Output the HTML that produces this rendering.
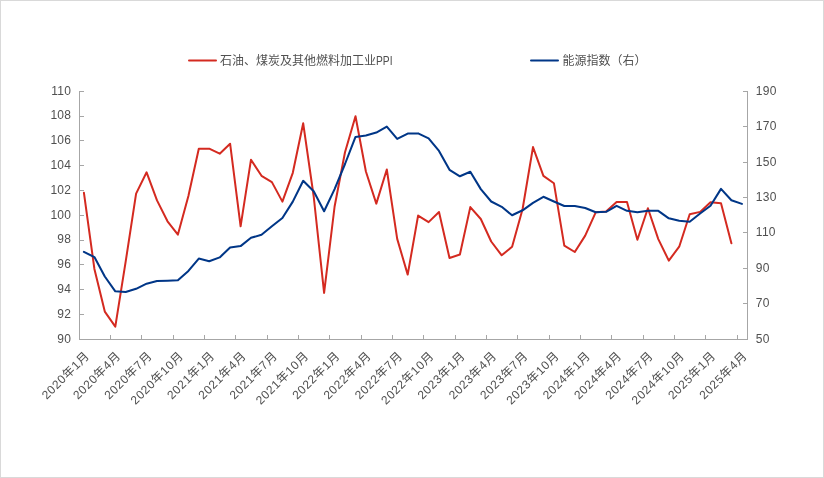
<!DOCTYPE html>
<html lang="zh-CN">
<head>
<meta charset="utf-8">
<title>石油、煤炭及其他燃料加工业PPI 与 能源指数</title>
<style>
html,body{margin:0;padding:0;background:#fff;}
body{width:824px;height:478px;overflow:hidden;}
svg{display:block;}
text{font-family:"Liberation Sans","Noto Sans CJK SC",sans-serif;font-size:12px;fill:#505050;}
.ax{stroke:#A6A6A6;stroke-width:1;fill:none;shape-rendering:crispEdges;}
.ln{fill:none;stroke-linejoin:round;stroke-linecap:round;}
</style>
</head>
<body>
<svg width="824" height="478" viewBox="0 0 824 478">
<rect x="0.5" y="0.5" width="823" height="477" fill="#fff" stroke="#D9D9D9" stroke-width="1" shape-rendering="crispEdges"/>
<g class="ax">
<path d="M79.5 91.0 V339.5 H747.5 V91.0"/>
<path d="M79.5 91.5 h4.5M79.5 116.5 h4.5M79.5 140.5 h4.5M79.5 165.5 h4.5M79.5 190.5 h4.5M79.5 215.5 h4.5M79.5 240.5 h4.5M79.5 264.5 h4.5M79.5 289.5 h4.5M79.5 314.5 h4.5M79.5 339.5 h4.5M747.5 91.5 h-4.5M747.5 126.5 h-4.5M747.5 162.5 h-4.5M747.5 197.5 h-4.5M747.5 232.5 h-4.5M747.5 268.5 h-4.5M747.5 303.5 h-4.5M747.5 339.5 h-4.5M79.5 339.5 v-4.5M110.5 339.5 v-4.5M141.5 339.5 v-4.5M173.5 339.5 v-4.5M204.5 339.5 v-4.5M235.5 339.5 v-4.5M267.5 339.5 v-4.5M298.5 339.5 v-4.5M329.5 339.5 v-4.5M361.5 339.5 v-4.5M392.5 339.5 v-4.5M423.5 339.5 v-4.5M455.5 339.5 v-4.5M486.5 339.5 v-4.5M517.5 339.5 v-4.5M549.5 339.5 v-4.5M580.5 339.5 v-4.5M611.5 339.5 v-4.5M643.5 339.5 v-4.5M674.5 339.5 v-4.5M705.5 339.5 v-4.5M737.5 339.5 v-4.5"/>
</g>
<g text-anchor="end" style="letter-spacing:0.3px">
<text x="71.3" y="94.6">110</text>
<text x="71.3" y="119.4">108</text>
<text x="71.3" y="144.2">106</text>
<text x="71.3" y="169.0">104</text>
<text x="71.3" y="193.8">102</text>
<text x="71.3" y="218.6">100</text>
<text x="71.3" y="243.4">98</text>
<text x="71.3" y="268.2">96</text>
<text x="71.3" y="293.0">94</text>
<text x="71.3" y="317.8">92</text>
<text x="71.3" y="342.6">90</text>
</g>
<g text-anchor="start" style="letter-spacing:0.3px">
<text x="755.8" y="94.6">190</text>
<text x="755.8" y="130.0">170</text>
<text x="755.8" y="165.5">150</text>
<text x="755.8" y="200.9">130</text>
<text x="755.8" y="236.3">110</text>
<text x="755.8" y="271.7">90</text>
<text x="755.8" y="307.2">70</text>
<text x="755.8" y="342.6">50</text>
</g>
<g text-anchor="end" style="letter-spacing:0.6px">
<text transform="translate(90.2,356.5) rotate(-45)" x="0" y="0">2020年1月</text>
<text transform="translate(121.5,356.5) rotate(-45)" x="0" y="0">2020年4月</text>
<text transform="translate(152.8,356.5) rotate(-45)" x="0" y="0">2020年7月</text>
<text transform="translate(184.2,356.5) rotate(-45)" x="0" y="0">2020年10月</text>
<text transform="translate(215.5,356.5) rotate(-45)" x="0" y="0">2021年1月</text>
<text transform="translate(246.8,356.5) rotate(-45)" x="0" y="0">2021年4月</text>
<text transform="translate(278.1,356.5) rotate(-45)" x="0" y="0">2021年7月</text>
<text transform="translate(309.4,356.5) rotate(-45)" x="0" y="0">2021年10月</text>
<text transform="translate(340.7,356.5) rotate(-45)" x="0" y="0">2022年1月</text>
<text transform="translate(372.0,356.5) rotate(-45)" x="0" y="0">2022年4月</text>
<text transform="translate(403.3,356.5) rotate(-45)" x="0" y="0">2022年7月</text>
<text transform="translate(434.7,356.5) rotate(-45)" x="0" y="0">2022年10月</text>
<text transform="translate(466.0,356.5) rotate(-45)" x="0" y="0">2023年1月</text>
<text transform="translate(497.3,356.5) rotate(-45)" x="0" y="0">2023年4月</text>
<text transform="translate(528.6,356.5) rotate(-45)" x="0" y="0">2023年7月</text>
<text transform="translate(559.9,356.5) rotate(-45)" x="0" y="0">2023年10月</text>
<text transform="translate(591.2,356.5) rotate(-45)" x="0" y="0">2024年1月</text>
<text transform="translate(622.5,356.5) rotate(-45)" x="0" y="0">2024年4月</text>
<text transform="translate(653.8,356.5) rotate(-45)" x="0" y="0">2024年7月</text>
<text transform="translate(685.2,356.5) rotate(-45)" x="0" y="0">2024年10月</text>
<text transform="translate(716.5,356.5) rotate(-45)" x="0" y="0">2025年1月</text>
<text transform="translate(747.8,356.5) rotate(-45)" x="0" y="0">2025年4月</text>
</g>
<polyline class="ln" stroke="#D42A20" stroke-width="2" points="83.9,192.7 94.4,268.9 104.8,311.6 115.3,326.6 125.7,261.4 136.1,193.6 146.6,172.3 157.0,200.4 167.5,221.3 177.9,234.6 188.4,196.0 198.8,148.7 209.2,148.7 219.7,153.7 230.1,143.7 240.6,226.3 251.0,159.7 261.5,175.8 271.9,182.1 282.4,201.6 292.8,172.8 303.2,123.3 313.7,196.5 324.1,292.9 334.6,206.5 345.0,152.2 355.5,116.3 365.9,171.5 376.3,203.6 386.8,169.5 397.2,238.9 407.7,274.6 418.1,215.6 428.6,222.1 439.0,212.0 449.5,258.0 459.9,254.5 470.3,207.1 480.8,219.0 491.2,241.5 501.7,255.3 512.1,246.8 522.6,209.0 533.0,147.1 543.4,175.9 553.9,183.2 564.3,245.6 574.8,252.0 585.2,235.6 595.7,212.3 606.1,211.6 616.6,202.0 627.0,202.0 637.4,239.7 647.9,208.3 658.3,239.1 668.8,260.6 679.2,246.7 689.7,214.3 700.1,211.9 710.5,202.2 721.0,203.2 731.4,243.3"/>
<polyline class="ln" stroke="#003687" stroke-width="2.05" points="83.9,251.9 94.4,257.1 104.8,276.5 115.3,291.3 125.7,292.0 136.1,288.8 146.6,283.7 157.0,281.0 167.5,280.7 177.9,280.2 188.4,270.9 198.8,258.6 209.2,261.2 219.7,257.4 230.1,247.6 240.6,246.1 251.0,237.8 261.5,234.8 271.9,226.3 282.4,218.0 292.8,201.6 303.2,180.8 313.7,191.2 324.1,211.3 334.6,189.1 345.0,164.0 355.5,136.9 365.9,135.6 376.3,132.6 386.8,126.6 397.2,138.9 407.7,133.6 418.1,133.4 428.6,138.4 439.0,150.9 449.5,169.8 459.9,176.3 470.3,171.8 480.8,189.1 491.2,201.5 501.7,206.8 512.1,215.3 522.6,210.3 533.0,202.8 543.4,196.8 553.9,201.5 564.3,206.0 574.8,206.0 585.2,208.0 595.7,212.3 606.1,211.8 616.6,205.8 627.0,210.8 637.4,212.3 647.9,210.8 658.3,210.8 668.8,218.3 679.2,220.8 689.7,221.7 700.1,213.5 710.5,205.7 721.0,188.9 731.4,200.2 741.9,203.9"/>
<path class="ln" stroke="#D42A20" stroke-width="2" d="M189 60.5 H216"/>
<text x="220" y="64.8">石油、煤炭及其他燃料加工业<tspan textLength="16.5" lengthAdjust="spacingAndGlyphs">PPI</tspan></text>
<path class="ln" stroke="#003687" stroke-width="2" d="M531 60.5 H558"/>
<text x="562.5" y="64.8">能源指数（右）</text>
</svg>
</body>
</html>
